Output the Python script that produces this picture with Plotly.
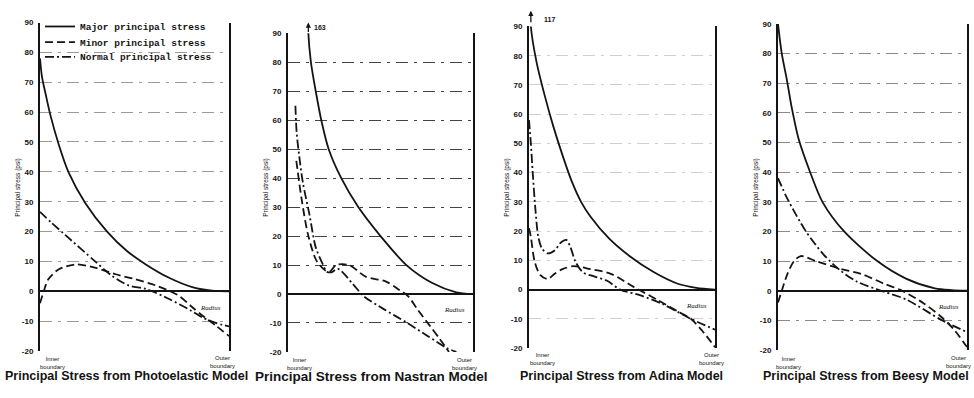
import plotly.graph_objects as go

# ---------------- data (x = fraction of radius, inner=0 -> outer=1; y = stress, psi) -------------
photo_major_x = [0, 0.01, 0.03, 0.055, 0.1, 0.15, 0.24, 0.355, 0.46, 0.56, 0.68, 0.81, 0.91, 1.0]
photo_major_y = [78, 72, 66, 59, 49, 40, 29.5, 20, 13.5, 9, 4.6, 1.3, 0.2, 0]
photo_minor_x = [0, 0.02, 0.044, 0.1, 0.19, 0.29, 0.4, 0.5, 0.61, 0.73, 0.8, 0.86, 0.93, 1.0]
photo_minor_y = [-4, 0, 4, 7.4, 9, 7.9, 5.7, 4.1, 2, -1.3, -5, -8.2, -11.5, -15]
photo_normal_x = [0, 0.06, 0.133, 0.29, 0.38, 0.47, 0.56, 0.68, 0.8, 0.86, 0.93, 1.0]
photo_normal_y = [26.6, 23, 18.9, 10.1, 5.2, 1.9, 0.8, -2.5, -6.5, -8.8, -10.6, -11.8]

nastran_major_x = [0.105, 0.11, 0.124, 0.15, 0.18, 0.22, 0.288, 0.38, 0.5, 0.64, 0.78, 0.91, 1.0]
nastran_major_y = [163, 90, 80, 70, 60, 50, 40, 30, 20, 10, 3.8, 0.6, 0]
nastran_minor_x = [0.045, 0.073, 0.108, 0.153, 0.2, 0.225, 0.26, 0.33, 0.42, 0.53, 0.6, 0.65, 0.7, 0.766, 0.82, 0.87]
nastran_minor_y = [46, 33, 20.6, 11.6, 8.2, 7.7, 10, 10, 6, 4.3, 1.5, -0.8, -5.3, -10.9, -15.5, -20]
nastran_normal_x = [0.04, 0.047, 0.06, 0.08, 0.116, 0.15, 0.19, 0.21, 0.235, 0.27, 0.35, 0.41, 0.52, 0.64, 0.75, 0.86, 0.91]
nastran_normal_y = [65, 55.5, 48, 38.6, 27.4, 16.1, 10, 7.7, 7.5, 8.7, 3.5, -0.8, -5.3, -9.8, -14.3, -18.7, -20]

adina_major_x = [0, 0.01, 0.04, 0.086, 0.13, 0.18, 0.23, 0.28, 0.33, 0.43, 0.54, 0.67, 0.8, 0.9, 1.0]
adina_major_y = [117, 90, 78, 66, 56, 46, 37, 30, 25, 17.5, 11.5, 6, 2, 0.6, 0]
adina_minor_x = [0, 0.01, 0.03, 0.06, 0.1, 0.14, 0.18, 0.24, 0.33, 0.44, 0.56, 0.69, 0.8, 0.87, 0.93, 1.0]
adina_minor_y = [21, 18, 9.7, 5, 3.6, 5.5, 7, 8, 7, 5.4, 1, -3.5, -7.5, -10, -14, -19.7]
adina_normal_x = [0, 0.01, 0.02, 0.035, 0.05, 0.07, 0.1, 0.14, 0.17, 0.2, 0.22, 0.25, 0.29, 0.35, 0.42, 0.49, 0.6, 0.72, 0.87, 1.0]
adina_normal_y = [58, 50, 40, 27, 18, 14, 12.4, 13.5, 16, 17, 15, 9.5, 5.9, 4.5, 3, 0, -2, -5, -10, -13.7]

beesy_major_x = [0, 0.02, 0.046, 0.072, 0.11, 0.17, 0.235, 0.35, 0.525, 0.68, 0.83, 0.92, 1.0]
beesy_major_y = [90, 80, 71.5, 62, 51, 40, 30, 20, 10, 4, 0.8, 0.2, 0]
beesy_minor_x = [0, 0.02, 0.05, 0.085, 0.12, 0.2, 0.33, 0.44, 0.56, 0.65, 0.77, 0.86, 0.93, 1.0]
beesy_minor_y = [-4, 0, 5.7, 10, 11.7, 10, 7.4, 5.7, 2.4, 0.2, -4.2, -8.6, -13, -19]
beesy_normal_x = [0, 0.05, 0.146, 0.24, 0.33, 0.42, 0.56, 0.68, 0.86, 1.0]
beesy_normal_y = [38, 31, 20.2, 12.3, 6.8, 3, -0.3, -3, -9.7, -14]

nastran_peak = 163
adina_peak = 117

series_names = ["Major principal stress", "Minor principal stress", "Normal principal stress"]
panel_titles = ["Principal Stress from Photoelastic Model", "Principal Stress from Nastran Model",
                "Principal Stress from Adina Model", "Principal Stress from Beesy Model"]
y_tick_vals = [90, 80, 70, 60, 50, 40, 30, 20, 10, 0, -10, -20]
y_tick_text = ["90", "80", "70", "60", "50", "40", "30", "20", "10", "0", "-10", "-20"]
y_axis_label = "Principal stress (psi)"
inner_label = "Inner<br>boundary"
outer_label = "Outer<br>boundary"
radius_label = "Radius"

# ---------------- layout geometry (pixels) ----------------
W, H = 974, 398
panel_px = [  # (left, right, top, bottom)
    (40, 229, 19, 355),
    (288, 473, 30, 356),
    (529, 715, 23, 352),
    (778, 967, 20.5, 354),
]
title_cx = [126, 371, 621, 866]
title_size = [12.5, 13.5, 12.5, 12.5]
inner_pos = [(52, 367), (299, 368), (542, 363), (788, 367)]
outer_pos = [(222, 366), (464, 368), (711, 363), (958, 366)]
legend_rows = [23, 39, 54]
grid_colors = ["#9a9a9a", "#444444", "#cfcfcf", "#8a8a8a"]

panels = [
    [(photo_major_x, photo_major_y), (photo_minor_x, photo_minor_y), (photo_normal_x, photo_normal_y)],
    [(nastran_major_x, nastran_major_y), (nastran_minor_x, nastran_minor_y), (nastran_normal_x, nastran_normal_y)],
    [(adina_major_x, adina_major_y), (adina_minor_x, adina_minor_y), (adina_normal_x, adina_normal_y)],
    [(beesy_major_x, beesy_major_y), (beesy_minor_x, beesy_minor_y), (beesy_normal_x, beesy_normal_y)],
]
dashes = ["solid", "8px,4px", "9px,3px,2px,3px"]
INK = "#141414"
NARROW = "Liberation Sans Narrow, Liberation Sans"

def px2x(p):
    return p / W

def px2y(p):
    return 1 - p / H

fig = go.Figure()
layout = dict(
    width=W, height=H, autosize=False,
    margin=dict(l=0, r=0, t=0, b=0),
    paper_bgcolor="white", plot_bgcolor="white",
    showlegend=True,
)
legend_ids = ["legend", "legend2", "legend3"]
for k, lid in enumerate(legend_ids):
    layout[lid] = dict(x=px2x(40), y=px2y(legend_rows[k]), xanchor="left", yanchor="middle",
                       bgcolor="rgba(0,0,0,0)", itemwidth=30, borderwidth=0,
                       font=dict(family="Liberation Mono, DejaVu Sans Mono", size=9.5, color=INK,
                                 weight="bold"))
annotations = []

for i, series in enumerate(panels):
    n = "" if i == 0 else str(i + 1)
    L, R, T, B = panel_px[i]
    for j, (xs, ys) in enumerate(series):
        fig.add_trace(go.Scatter(
            x=xs, y=ys, mode="lines", name=series_names[j],
            legend=legend_ids[j], showlegend=(i == 0),
            line=dict(color=INK, width=1.8, dash=dashes[j], shape="spline", smoothing=0.8),
            xaxis="x" + n, yaxis="y" + n, hoverinfo="skip",
        ))
    layout["xaxis" + n] = dict(domain=[px2x(L), px2x(R)], range=[0, 1], showgrid=False, zeroline=False,
                               showticklabels=False, showline=False, anchor="y" + n, fixedrange=True)
    layout["yaxis" + n] = dict(domain=[px2y(B), px2y(T)], range=[-20, 90], anchor="x" + n,
                               tickvals=y_tick_vals, ticktext=y_tick_text,
                               showline=True, linecolor=INK, linewidth=2, mirror=True,
                               showgrid=True, gridcolor=grid_colors[i], gridwidth=1,
                               griddash="12px,6px,3px,6px",
                               zeroline=True, zerolinecolor=INK, zerolinewidth=2,
                               ticks="", ticklabelstandoff=3,
                               tickfont=dict(family=NARROW, size=8, color=INK, weight="bold"),
                               fixedrange=True)
    # y-axis title
    annotations.append(dict(text=y_axis_label, xref="paper", yref="paper",
                            x=px2x(L - 22), y=px2y(188), xanchor="center", yanchor="middle",
                            textangle=-90, showarrow=False,
                            font=dict(family=NARROW, size=6.5, color=INK)))
    # panel title
    annotations.append(dict(text=panel_titles[i], xref="paper", yref="paper",
                            x=px2x(title_cx[i]), y=px2y(381), xanchor="center", yanchor="middle",
                            showarrow=False,
                            font=dict(family="Liberation Sans", size=title_size[i], color=INK,
                                      weight="bold")))
    # boundary labels
    annotations.append(dict(text=inner_label, xref="paper", yref="paper",
                            x=px2x(inner_pos[i][0]), y=px2y(inner_pos[i][1]),
                            xanchor="center", yanchor="middle", showarrow=False,
                            font=dict(family=NARROW, size=6, color=INK)))
    annotations.append(dict(text=outer_label, xref="paper", yref="paper",
                            x=px2x(outer_pos[i][0]), y=px2y(outer_pos[i][1]),
                            xanchor="center", yanchor="middle", showarrow=False,
                            font=dict(family=NARROW, size=6, color=INK)))
    annotations.append(dict(text=radius_label, xref="x" + n, yref="y" + n, x=0.9, y=-5.5,
                            showarrow=False,
                            font=dict(family="Liberation Serif", size=7, color=INK, style="italic")))

# off-scale peaks
annotations.append(dict(text="", xref="x2", yref="paper", x=0.11, y=px2y(19), ax=0, ay=11,
                        showarrow=True, arrowhead=2, arrowsize=0.8, arrowwidth=1.3, arrowcolor=INK))
annotations.append(dict(text=str(nastran_peak), xref="x2", yref="paper", x=0.13, y=px2y(24),
                        xanchor="left", yanchor="middle", showarrow=False,
                        font=dict(family=NARROW, size=7, color=INK, weight="bold")))
annotations.append(dict(text="", xref="x3", yref="paper", x=0.01, y=px2y(7), ax=0, ay=13,
                        showarrow=True, arrowhead=2, arrowsize=0.8, arrowwidth=1.3, arrowcolor=INK))
annotations.append(dict(text=str(adina_peak), xref="x3", yref="paper", x=0.07, y=px2y(16),
                        xanchor="left", yanchor="middle", showarrow=False,
                        font=dict(family=NARROW, size=7, color=INK, weight="bold")))

layout["annotations"] = annotations
fig.update_layout(**layout)
fig.write_html("out.html", config={"displayModeBar": False},
               post_script="document.body.style.margin='0';document.body.style.overflow='hidden';")
